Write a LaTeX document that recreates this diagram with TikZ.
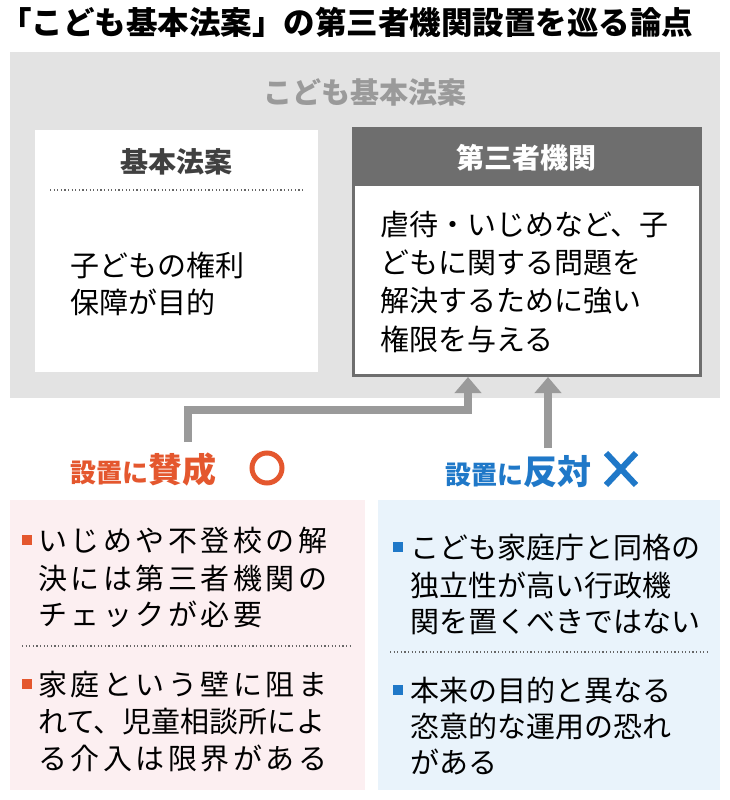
\documentclass[tikz,border=0pt]{standalone}
\usepackage{fontspec}
\setmainfont{Noto Sans CJK JP}
\usetikzlibrary{arrows.meta}
\definecolor{bggray}{HTML}{E3E3E3}
\definecolor{hdgray}{HTML}{6E6E6E}
\definecolor{argray}{HTML}{9A9A9A}
\definecolor{redc}{HTML}{E4572E}
\definecolor{bluec}{HTML}{1F78C8}
\definecolor{pinkbg}{HTML}{FCEFF1}
\definecolor{bluebg}{HTML}{E9F3FB}
\tikzset{
 txt/.style={anchor=west,inner sep=0pt,font=\fontsize{29}{29}\selectfont},
 txtw/.style={anchor=west,inner sep=0pt,font=\fontsize{29}{29}\selectfont\addfontfeature{LetterSpace=12}},
 dotsep/.style={line width=1.2pt,dash pattern=on 1.2pt off 2.4pt,color=#1},
 arr/.style={draw=argray,line width=8pt,-{Triangle[length=16pt,width=26pt]}}
}
\begin{document}
\begin{tikzpicture}[x=1pt,y=-1pt]
\useasboundingbox (0,0) rectangle (730,800);
\node[anchor=west,inner sep=0pt,font=\fontsize{31.5}{31.5}\selectfont\bfseries] (title) at (0,22) {「こども基本法案」の第三者機関設置を巡る論点};
\fill[bggray] (10,52) rectangle (720,398);
\node[font=\fontsize{29}{29}\selectfont\bfseries,text=argray] (bt) at (365,92) {こども基本法案};
% left box
\fill[white] (35,130) rectangle (318,372);
\node[font=\fontsize{28}{28}\selectfont\bfseries,text=black!75] (lh) at (176,162) {基本法案};
\draw[dotsep=black!60] (50,190) -- (303,190);
\node[txt] (l1) at (70,265) {子どもの権利};
\node[txt] (l2) at (70,302) {保障が目的};
% right box
\draw[hdgray,line width=3pt,fill=white] (353,128) rectangle (700,375);
\fill[hdgray] (353,128) rectangle (700,186);
\node[font=\fontsize{28}{28}\selectfont\bfseries,text=white] (rh) at (526,158) {第三者機関};
\node[txt] (r1) at (380,225) {虐待・いじめなど、子};
\node[txt] (r2) at (380,263) {どもに関する問題を};
\node[txt] (r3) at (380,301) {解決するために強い};
\node[txt] (r4) at (380,339) {権限を与える};
% arrows
\coordinate (a1) at (188,442);
\coordinate (a1t) at (468,377);
\coordinate (a2) at (548,448);
\coordinate (a2t) at (548,377);
\draw[arr] (a1) -- (188,410) -- (468,410) -- (a1t);
\draw[arr] (a2) -- (a2t);
% labels
\node[anchor=west,inner sep=0pt,text=redc,font=\bfseries] (pro) at (70,470) {\fontsize{26}{26}\selectfont 設置に\fontsize{34}{34}\selectfont 賛成};
\draw[redc,line width=5pt] (267,468) circle (15);
\node[anchor=west,inner sep=0pt,text=bluec,font=\bfseries] (con) at (445,472) {\fontsize{26}{26}\selectfont 設置に\fontsize{34}{34}\selectfont 反対};
\draw[bluec,line width=6pt] (606,453) -- (636,485) (636,453) -- (606,485);
% bottom boxes
\fill[pinkbg] (10,500) rectangle (365,790);
\fill[bluebg] (378,500) rectangle (720,790);
\draw[dotsep=black!60] (22,646) -- (352,646);
\draw[dotsep=black!60] (390,652) -- (708,652);
\fill[redc] (22,535) rectangle (32,545);
\fill[redc] (22,679) rectangle (32,689);
\fill[bluec] (393,542) rectangle (403,552);
\fill[bluec] (393,685) rectangle (403,695);
\node[txtw] (p1) at (38,541) {いじめや不登校の解};
\node[txtw] (p2) at (38,578) {決には第三者機関の};
\node[txtw] (p3) at (38,614) {チェックが必要};
\node[txtw] (p4) at (38,685) {家庭という壁に阻ま};
\node[txt] (p5) at (38,722) {れて、児童相談所によ};
\node[txtw] (p6) at (38,758) {る介入は限界がある};
\node[txt] (c1) at (410,548) {こども家庭庁と同格の};
\node[txt] (c2) at (410,585) {独立性が高い行政機};
\node[txt] (c3) at (410,622) {関を置くべきではない};
\node[txt] (c4) at (410,690) {本来の目的と異なる};
\node[txt] (c5) at (410,726) {恣意的な運用の恐れ};
\node[txt] (c6) at (410,762) {がある};
\end{tikzpicture}
\end{document}
